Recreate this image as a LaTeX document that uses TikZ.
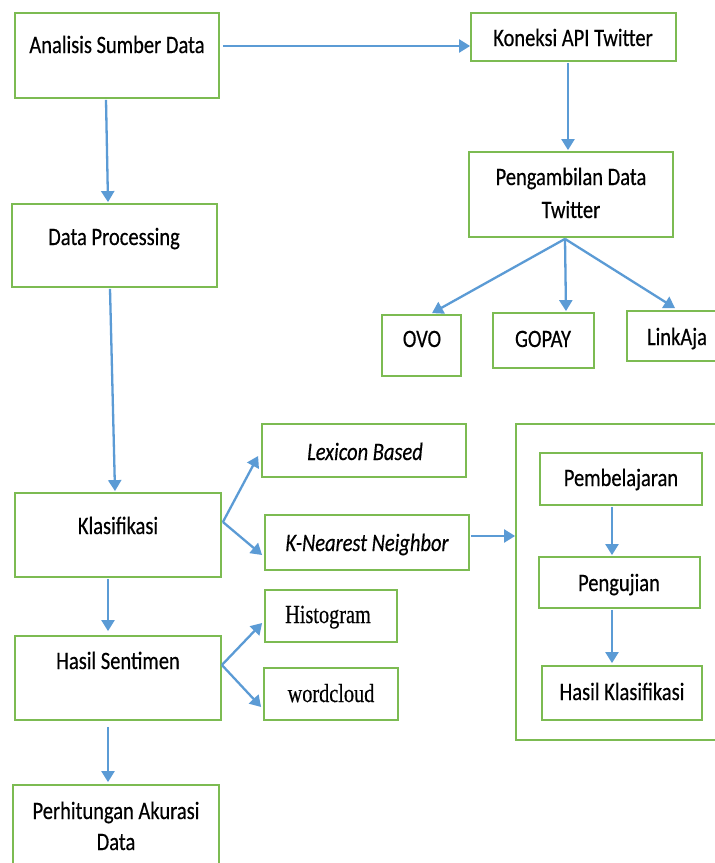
\documentclass[tikz,border=0pt]{standalone}
\usepackage{fontspec}
\setmainfont{Carlito}[FakeStretch=0.82,FakeBold=0.4]
\newfontfamily\tnr{Liberation Serif}[FakeStretch=0.78,FakeBold=0.4]
\usetikzlibrary{arrows.meta,calc}
\definecolor{bgreen}{HTML}{7CBB52}
\definecolor{ablue}{HTML}{5B9BD5}
\tikzset{
  box/.style={draw=bgreen, line width=1.8pt, inner sep=0pt, fill=white},
  txt/.style={anchor=base, inner sep=0pt, font=\fontsize{25}{30}\selectfont},
  serif/.style={anchor=base, inner sep=0pt, font=\tnr\fontsize{26}{30}\selectfont},
  arr/.style={draw=ablue, line width=2.3pt, -{Triangle[length=11pt,width=13pt]}},
}
\begin{document}
\begin{tikzpicture}[x=1pt,y=-1pt]
\useasboundingbox (0,0) rectangle (715,863);
\fill[white] (0,0) rectangle (715,863);
\clip (0,0) rectangle (715,863);
% boxes
\node[box, minimum width=204, minimum height=85] (asd) at (117,55.5) {};
\node[box, minimum width=205, minimum height=83] (dp) at (114.5,245.5) {};
\node[box, minimum width=205, minimum height=48] (kat) at (573.5,37) {};
\node[box, minimum width=204, minimum height=85] (pdt) at (571,194.5) {};
\node[box, minimum width=79, minimum height=61] (ovo) at (421.5,345.5) {};
\node[box, minimum width=101, minimum height=55] (gopay) at (543.5,340.5) {};
\node[box, minimum width=100, minimum height=50] (linkaja) at (677,336) {};
\node[box, minimum width=206, minimum height=84] (kls) at (118,535) {};
\node[box, minimum width=204, minimum height=53] (lex) at (364,450.5) {};
\node[box, minimum width=204, minimum height=55] (knn) at (367,542.5) {};
\node[box, minimum width=212, minimum height=316] (cont) at (622,582) {};
\node[box, minimum width=162, minimum height=52] (pem) at (621,479) {};
\node[box, minimum width=161, minimum height=51] (peng) at (619.5,582.5) {};
\node[box, minimum width=160, minimum height=54] (hk) at (622,693) {};
\node[box, minimum width=206, minimum height=84] (hs) at (118,678) {};
\node[box, minimum width=132, minimum height=52] (hist) at (331,616) {};
\node[box, minimum width=134, minimum height=52] (wc) at (331,694) {};
\node[box, minimum width=206, minimum height=85] (pak) at (116,827.5) {};
% texts
\node[txt] (tasd) at (117,53) {Analisis Sumber Data};
\node[txt] (tdp) at (114,245) {Data Processing};
\node[txt] (tkat) at (573,46) {Koneksi API Twitter};
\node[txt] (tpdt1) at (571,185) {Pengambilan Data};
\node[txt] (tpdt2) at (571,218) {Twitter};
\node[txt] (tovo) at (422,347) {OVO};
\node[txt] (tgopay) at (543,347) {GOPAY};
\node[txt] (tlinkaja) at (677,345) {LinkAja};
\node[txt] (tkls) at (118,534) {Klasifikasi};
\node[txt] (tlex) at (365,460) {\itshape Lexicon Based};
\node[txt] (tknn) at (367,551) {\itshape K-Nearest Neighbor};
\node[txt] (tpem) at (621,486) {Pembelajaran};
\node[txt] (tpeng) at (619,591) {Pengujian};
\node[txt] (thk) at (622,700) {Hasil Klasifikasi};
\node[txt] (ths) at (118,669) {Hasil Sentimen};
\node[serif] (thist) at (328,623) {Histogram};
\node[serif] (twc) at (331,702) {wordcloud};
\node[txt] (tpak1) at (116,819) {Perhitungan Akurasi};
\node[txt] (tpak2) at (116,850) {Data};
% arrows
\draw[arr] ($(asd.east)+(3,-9.5)$) -- ($(kat.west)+(0,9)$);
\draw[arr] ($(asd.south)+(-11,1)$) -- ($(dp.north)+(-6.5,-1)$);
\draw[arr] ($(kat.south)+(-5.5,1)$) -- ($(pdt.north)+(-3,-1)$);
\draw[arr] ($(pdt.south)+(-6,1)$) -- ($(ovo.north)+(10.5,-1)$);
\draw[arr] ($(pdt.south)+(-6,1)$) -- ($(gopay.north)+(22.5,-1)$);
\draw[arr] ($(pdt.south)+(-6,1)$) -- ($(linkaja.north)+(-2,-2)$);
\draw[arr] ($(dp.south)+(-4.5,1)$) -- ($(kls.north)+(-3,-1)$);
\draw[arr] ($(kls.east)+(1,-13)$) -- ($(lex.west)+(-3,5.5)$);
\draw[arr] ($(kls.east)+(1,-13)$) -- ($(knn.west)+(-2,12.5)$);
\draw[arr] ($(knn.east)+(1,-6.5)$) -- ($(cont.west)+(0,-46)$);
\draw[arr] ($(pem.south)+(-9,1)$) -- ($(peng.north)+(-7.5,-1)$);
\draw[arr] ($(peng.south)+(-7.5,1)$) -- ($(hk.north)+(-10,-2)$);
\draw[arr] ($(kls.south)+(-10,1)$) -- ($(hs.north)+(-10,-4)$);
\draw[arr] ($(hs.east)+(0,-13)$) -- ($(hist.west)+(-2,7)$);
\draw[arr] ($(hs.east)+(0,-13)$) -- ($(wc.west)+(-2,13)$);
\draw[arr] ($(hs.south)+(-10,6)$) -- ($(pak.north)+(-8,-2)$);
\end{tikzpicture}
\end{document}
